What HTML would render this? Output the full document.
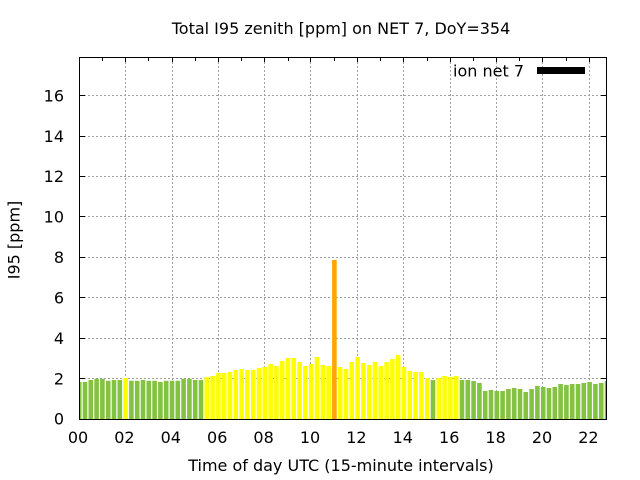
<!DOCTYPE html>
<html>
<head>
<meta charset="utf-8">
<style>
html,body{margin:0;padding:0;background:#fff;}
svg{display:block;}
text{font-family:"DejaVu Sans","Liberation Sans",sans-serif;font-size:16px;fill:#000;}
</style>
</head>
<body>
<svg width="640" height="480" viewBox="0 0 640 480" xmlns="http://www.w3.org/2000/svg">
<rect x="0" y="0" width="640" height="480" fill="#fff"/>
<defs>
<clipPath id="pa"><rect x="80" y="58" width="526" height="361"/></clipPath>
</defs>
<g stroke="#a0a0a0" stroke-width="1" stroke-dasharray="2,2" fill="none">
<path d="M80 378.5H606M80 338.5H606M80 297.5H606M80 257.5H606M80 216.5H606M80 176.5H606M80 136.5H606M80 95.5H606"/>
<path d="M125.5 58V419M172.5 58V419M218.5 58V419M264.5 58V419M310.5 58V419M357.5 58V419M403.5 58V419M450.5 58V419M496.5 58V419M542.5 58V419M589.5 58V419"/>
</g>
<g clip-path="url(#pa)" stroke-width="4.6" fill="none" stroke-linecap="butt">
<path stroke="#84c341" d="M79.2 419V382M85 419V382M90.8 419V380M96.6 419V378.7M102.4 419V378.7M108.2 419V380.7M114 419V380M119.8 419V380
M131.4 419V380.7M137.2 419V380.7M143 419V380M148.8 419V380.7M154.6 419V380.7M160.4 419V382M166.2 419V380.7M172 419V380.7M177.8 419V380.7M183.6 419V378.7M189.4 419V378.7M195.2 419V380M201 419V380
M433 419V380
M462 419V380M467.8 419V380M473.6 419V381M479.4 419V383M485.2 419V391M491 419V390M496.8 419V391M502.6 419V391M508.4 419V389M514.2 419V388M520 419V389M525.8 419V392M531.6 419V389M537.4 419V386M543.2 419V387M549 419V388M554.8 419V387M560.6 419V384M566.4 419V385M572.2 419V384M578 419V384M583.8 419V383M589.6 419V382M595.4 419V384M601.2 419V383M607 419V381"/>
<path stroke="#ffff00" d="M125.6 419V378
M206.8 419V377M212.6 419V376M218.4 419V373M224.2 419V373M230 419V372M235.8 419V370M241.6 419V369M247.4 419V370M253.2 419V370M259 419V368M264.8 419V367M270.6 419V364M276.4 419V366M282.2 419V361M288 419V358M293.8 419V358M299.6 419V362M305.4 419V366M311.2 419V364M317 419V357M322.8 419V365M328.6 419V366
M340.2 419V367M346 419V369M351.8 419V362M357.6 419V357M363.4 419V363M369.2 419V365M375 419V362M380.8 419V366M386.6 419V362M392.4 419V359M398.2 419V355M404 419V367M409.8 419V371M415.6 419V372M421.4 419V372M427.2 419V378
M438.8 419V378M444.6 419V376M450.4 419V377M456.2 419V376"/>
<path stroke="#ffa500" d="M334.4 419V260"/>
</g>
<g stroke="#000" stroke-width="1" fill="none">
<path d="M80 378.5h5M80 338.5h5M80 297.5h5M80 257.5h5M80 216.5h5M80 176.5h5M80 136.5h5M80 95.5h5"/>
<path d="M606 378.5h-5M606 338.5h-5M606 297.5h-5M606 257.5h-5M606 216.5h-5M606 176.5h-5M606 136.5h-5M606 95.5h-5"/>
<path d="M102.5 58v3M125.5 58v4M148.5 58v3M172.5 58v4M195.5 58v3M218.5 58v4M241.5 58v3M264.5 58v4M288.5 58v3M310.5 58v4M334.5 58v3M357.5 58v4M380.5 58v3M403.5 58v4M427.5 58v3M450.5 58v4M473.5 58v3M496.5 58v4M519.5 58v3M542.5 58v4M566.5 58v3M589.5 58v4"/>
</g>
<rect x="79.5" y="57.5" width="527" height="362" fill="none" stroke="#000" stroke-width="1"/>
<g text-anchor="end">
<text x="64" y="424.5">0</text>
<text x="64" y="384.3">2</text>
<text x="64" y="344">4</text>
<text x="64" y="303.5">6</text>
<text x="64" y="263">8</text>
<text x="64" y="222.6">10</text>
<text x="64" y="182.2">12</text>
<text x="64" y="141.8">14</text>
<text x="64" y="101.4">16</text>
</g>
<g text-anchor="middle">
<text x="78" y="443">00</text>
<text x="124.4" y="443">02</text>
<text x="170.8" y="443">04</text>
<text x="217.2" y="443">06</text>
<text x="263.6" y="443">08</text>
<text x="310" y="443">10</text>
<text x="356.4" y="443">12</text>
<text x="402.8" y="443">14</text>
<text x="449.2" y="443">16</text>
<text x="495.6" y="443">18</text>
<text x="542" y="443">20</text>
<text x="588.4" y="443">22</text>
</g>
<text x="341" y="34" text-anchor="middle">Total I95 zenith [ppm] on NET 7, DoY=354</text>
<text x="341" y="471" text-anchor="middle">Time of day UTC (15-minute intervals)</text>
<text transform="translate(19.5,240) rotate(-90)" text-anchor="middle">I95 [ppm]</text>
<text x="524" y="76.5" text-anchor="end">ion net 7</text>
<rect x="537" y="67" width="48" height="7" fill="#000"/>
</svg>
</body>
</html>
